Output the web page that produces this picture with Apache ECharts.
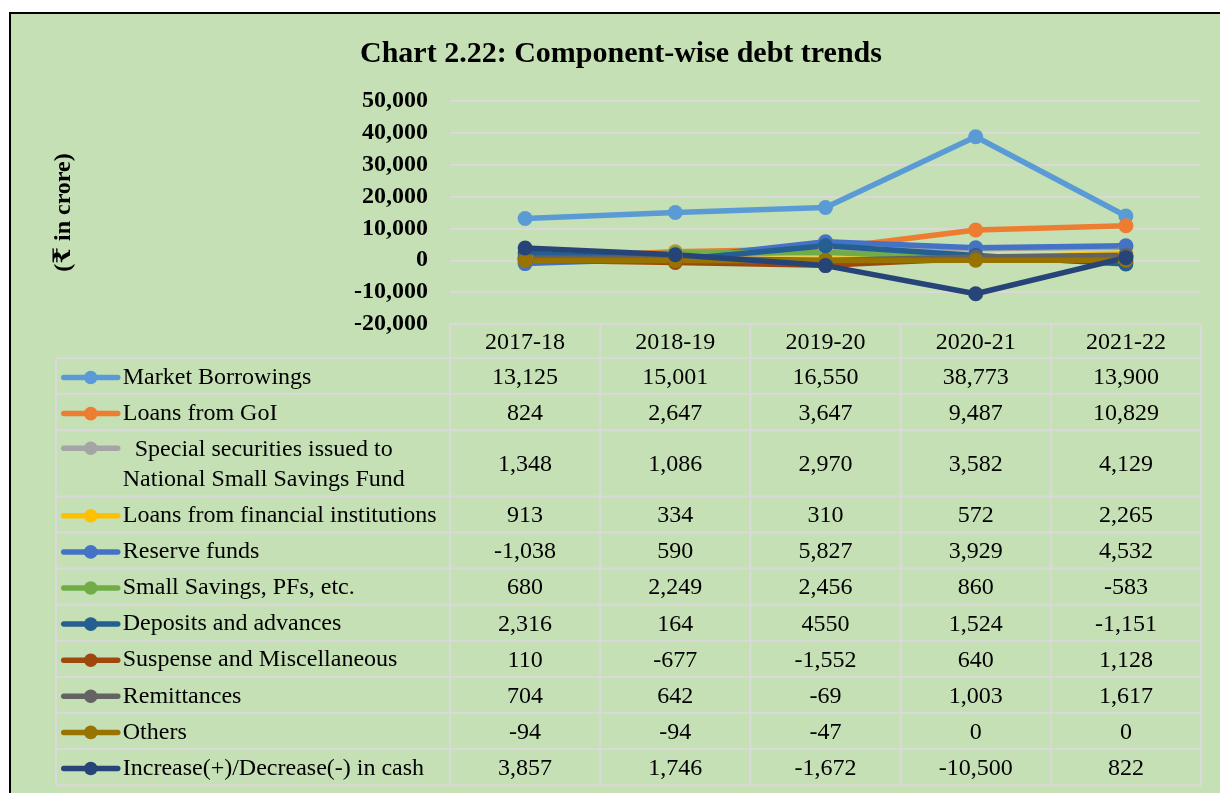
<!DOCTYPE html>
<html>
<head>
<meta charset="utf-8">
<script src="https://cdn.jsdelivr.net/npm/echarts@6/dist/echarts.min.js"></script>
<style>
  html, body { margin: 0; padding: 0; background: #fff; }
  #chart { width: 1220px; height: 793px; }
</style>
</head>
<body>
<div id="chart"></div>
<script>
// years shown under the plot (also the table header)
const years = ['2017-18', '2018-19', '2019-20', '2020-21', '2021-22'];

const seriesNames = [
    'Market Borrowings',
    'Loans from GoI',
    '  Special securities issued to\nNational Small Savings Fund',
    'Loans from financial institutions',
    'Reserve funds',
    'Small Savings, PFs, etc.',
    'Deposits and advances',
    'Suspense and Miscellaneous',
    'Remittances',
    'Others',
    'Increase(+)/Decrease(-) in cash'
];

// values as printed in the data table (₹ crore)
const marketBorrowings = ['13,125', '15,001', '16,550', '38,773', '13,900'];
const loansFromGoI = ['824', '2,647', '3,647', '9,487', '10,829'];
const nssfSecurities = ['1,348', '1,086', '2,970', '3,582', '4,129'];
const loansFinInst = ['913', '334', '310', '572', '2,265'];
const reserveFunds = ['-1,038', '590', '5,827', '3,929', '4,532'];
const smallSavings = ['680', '2,249', '2,456', '860', '-583'];
const deposits = ['2,316', '164', '4550', '1,524', '-1,151'];
const suspense = ['110', '-677', '-1,552', '640', '1,128'];
const remittances = ['704', '642', '-69', '1,003', '1,617'];
const others = ['-94', '-94', '-47', '0', '0'];
const cashChange = ['3,857', '1,746', '-1,672', '-10,500', '822'];

const yTicks = { min: -20000, max: 50000, step: 10000 };

const rows = [marketBorrowings, loansFromGoI, nssfSecurities, loansFinInst, reserveFunds,
    smallSavings, deposits, suspense, remittances, others, cashChange];

const colors = ['#5B9BD5', '#ED7D31', '#A5A5A5', '#FFC000', '#4472C4', '#70AD47',
    '#255E91', '#9E480E', '#636363', '#997300', '#264478'];

const FONT = "'Liberation Serif', 'Times New Roman', 'DejaVu Serif', serif";
const GRID_LINE = '#D9D9D9';
const LINE_W = 5.5;

const toNum = s => Number(s.replace(/,/g, ''));
const isTwoLine = name => name.indexOf('\n') >= 0;

const chart = echarts.init(document.getElementById('chart'));

// table layout
const tableTop = 358;
const tableLeft = 56;
const singleRow = 36.1;
const rowHeight = name => isTwoLine(name) ? singleRow * 2 - 6 : singleRow;
const legendLeft = 61, iconW = 54, iconH = 17;

chart.setOption({
    animation: false,
    title: {
        text: 'Chart 2.22: Component-wise debt trends',
        left: 360,
        top: 39,
        padding: 0,
        textStyle: { fontFamily: FONT, fontWeight: 'bold', fontSize: 30, color: '#000' }
    },
    grid: { left: 450, right: 19, top: 101, bottom: 469, containLabel: false },
    legend: {
        orient: 'vertical',
        left: legendLeft,
        top: tableTop + 4.5,
        padding: 0,
        itemWidth: iconW,
        itemHeight: iconH,
        itemGap: 6.1,
        selectedMode: false,
        lineStyle: { width: LINE_W, cap: 'round' },
        // the two-line entry gets its icon on the first line (drawn below)
        data: seriesNames.map(n => isTwoLine(n) ? { name: n, icon: 'none' } : n),
        textStyle: { fontFamily: FONT, fontSize: 24, lineHeight: 30, color: '#000' }
    },
    xAxis: {
        type: 'category',
        data: years,
        boundaryGap: true,
        axisLine: { show: false },
        axisTick: { show: false },
        axisLabel: { fontFamily: FONT, fontSize: 24, color: '#000', margin: 7 }
    },
    yAxis: {
        type: 'value',
        min: yTicks.min,
        max: yTicks.max,
        interval: yTicks.step,
        name: '(₹ in crore)',
        nameLocation: 'middle',
        nameRotate: 90,
        nameGap: 374,
        nameTextStyle: { fontFamily: FONT, fontWeight: 'bold', fontSize: 24, color: '#000' },
        axisLine: { show: false },
        axisTick: { show: false },
        axisLabel: {
            fontFamily: FONT, fontWeight: 'bold', fontSize: 24, color: '#000', margin: 22,
            padding: [4, 0, 0, 0],
            formatter: v => v.toLocaleString('en-US')
        },
        splitLine: { lineStyle: { color: GRID_LINE, width: 2 } }
    },
    series: seriesNames.map((name, i) => ({
        name: name,
        type: 'line',
        data: rows[i].map(toNum),
        symbol: 'circle',
        symbolSize: 15,
        showSymbol: true,
        lineStyle: { width: LINE_W, color: colors[i] },
        itemStyle: { color: colors[i] },
        emphasis: { disabled: true }
    }))
});

// data table drawn under the plot, columns taken from the category axis
const centers = years.map(y => chart.convertToPixel({ xAxisIndex: 0 }, y));
const band = centers[1] - centers[0];
const colEdges = [centers[0] - band / 2].concat(centers.map(c => c + band / 2));
const headerTop = chart.convertToPixel({ yAxisIndex: 0 }, yTicks.min);

const rowTops = [];
let y = tableTop;
seriesNames.forEach(n => { rowTops.push(y); y += rowHeight(n); });
const tableBottom = y;
const tableRight = colEdges[colEdges.length - 1];

const lineStyle = { stroke: GRID_LINE, lineWidth: 2 };
const graphics = [{
    type: 'rect',
    z: -100,
    silent: true,
    shape: { x: 10, y: 13, width: 1240, height: 800 },
    style: { fill: '#C5E0B4', stroke: '#000', lineWidth: 2 }
}];

graphics.push({ type: 'line', z: 1, silent: true,
    shape: { x1: colEdges[0], y1: headerTop, x2: tableRight, y2: headerTop }, style: lineStyle });
colEdges.forEach(x => graphics.push({ type: 'line', z: 1, silent: true,
    shape: { x1: x, y1: headerTop, x2: x, y2: tableBottom }, style: lineStyle }));
graphics.push({ type: 'line', z: 1, silent: true,
    shape: { x1: tableLeft, y1: tableTop, x2: tableLeft, y2: tableBottom }, style: lineStyle });
rowTops.concat([tableBottom]).forEach(ry => graphics.push({ type: 'line', z: 1, silent: true,
    shape: { x1: tableLeft, y1: ry, x2: tableRight, y2: ry }, style: lineStyle }));

rows.forEach((vals, i) => {
    const cy = rowTops[i] + rowHeight(seriesNames[i]) / 2 + 1.5;
    vals.forEach((v, j) => graphics.push({
        type: 'text', z: 2, silent: true,
        x: centers[j], y: cy,
        style: { text: v, fontFamily: FONT, fontSize: 24, fill: '#000', align: 'center', verticalAlign: 'middle' }
    }));
});

// legend key for the two-line entry, placed on its first text line
const capPad = LINE_W / 2;
seriesNames.forEach((n, i) => {
    if (!isTwoLine(n)) return;
    const ky = rowTops[i] + 4.5 + 13.5;
    graphics.push({ type: 'line', z: 3, silent: true,
        shape: { x1: legendLeft + capPad, y1: ky, x2: legendLeft + capPad + iconW, y2: ky },
        style: { stroke: colors[i], lineWidth: LINE_W, lineCap: 'round' } });
    graphics.push({ type: 'circle', z: 3, silent: true,
        shape: { cx: legendLeft + capPad + iconW / 2, cy: ky, r: iconH * 0.4 },
        style: { fill: colors[i] } });
});

chart.setOption({ graphic: graphics });
</script>
</body>
</html>
